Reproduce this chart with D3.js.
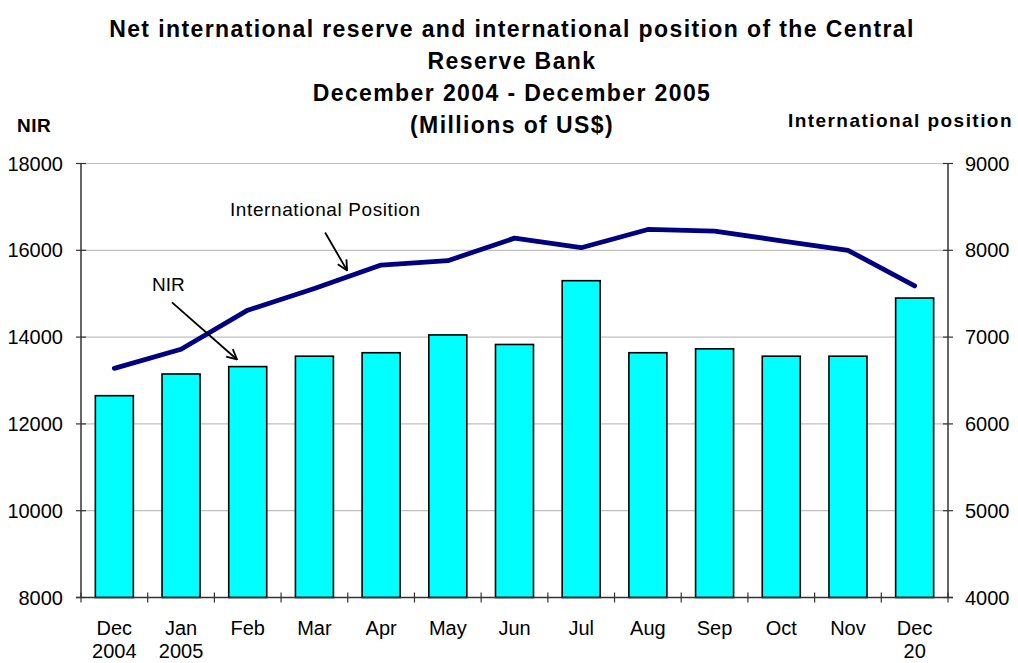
<!DOCTYPE html>
<html>
<head>
<meta charset="utf-8">
<script src="https://cdn.jsdelivr.net/npm/d3@7"></script>
<style>
  html, body { margin: 0; padding: 0; background: #fff; }
  svg { display: block; font-family: Arial, "Liberation Sans", sans-serif; }
</style>
</head>
<body>
<svg id="chart" width="1018" height="663"></svg>
<script>
// ---- data ----
const months = ["Dec", "Jan", "Feb", "Mar", "Apr", "May", "Jun", "Jul", "Aug", "Sep", "Oct", "Nov", "Dec"];
const years  = ["2004", "2005", "", "", "", "", "", "", "", "", "", "", "20"];
const nir    = [12650, 13150, 13320, 13560, 13640, 14050, 13830, 15300, 13640, 13730, 13560, 13560, 14900];
const intlPosition = [6640, 6860, 7310, 7560, 7830, 7880, 8140, 8030, 8240, 8220, 8110, 8000, 7590];
const leftTicks  = [8000, 10000, 12000, 14000, 16000, 18000];
const rightTicks = [4000, 5000, 6000, 7000, 8000, 9000];
const titleLines = [
  "Net international reserve and international position of the Central",
  "Reserve Bank",
  "December 2004 - December 2005",
  "(Millions of US$)"
];

// ---- layout ----
const W = 1018, H = 663;
const m = { left: 81, right: 948, top: 163.5, bottom: 597.5 };
const svg = d3.select("#chart");

const idx = months.map((d, i) => i);
const x = d3.scaleBand().domain(idx).range([m.left, m.right]).paddingInner(0.43).paddingOuter(0.215);
const xPos = d3.scaleLinear().domain([0, months.length]).range([m.left, m.right]);
const yL = d3.scaleLinear().domain([8000, 18000]).range([m.bottom, m.top]);
const yR = d3.scaleLinear().domain([4000, 9000]).range([m.bottom, m.top]);

// gridlines
svg.append("g").selectAll("line").data(leftTicks.filter(t => t > 8000)).join("line")
  .attr("x1", m.left).attr("x2", m.right)
  .attr("y1", d => yL(d)).attr("y2", d => yL(d))
  .attr("stroke", "#c0c0c0").attr("stroke-width", 1.2);

// bars
svg.append("g").selectAll("rect").data(nir).join("rect")
  .attr("x", (d, i) => x(i))
  .attr("width", x.bandwidth())
  .attr("y", d => yL(d))
  .attr("height", d => yL(8000) - yL(d))
  .attr("fill", "#00ffff")
  .attr("stroke", "#000").attr("stroke-width", 1.6);

// line
const line = d3.line().x((d, i) => x(i) + x.bandwidth() / 2).y(d => yR(d));
svg.append("path").datum(intlPosition)
  .attr("d", line).attr("fill", "none")
  .attr("stroke", "#000080").attr("stroke-width", 4.8)
  .attr("stroke-linejoin", "round").attr("stroke-linecap", "round");

// axes lines
const axisColor = "#333";
svg.append("line").attr("x1", m.left).attr("x2", m.left).attr("y1", m.top).attr("y2", m.bottom)
  .attr("stroke", axisColor).attr("stroke-width", 1.5);
svg.append("line").attr("x1", m.right).attr("x2", m.right).attr("y1", m.top).attr("y2", m.bottom)
  .attr("stroke", axisColor).attr("stroke-width", 1.5);
svg.append("line").attr("x1", m.left - 5).attr("x2", m.right + 5).attr("y1", m.bottom).attr("y2", m.bottom)
  .attr("stroke", axisColor).attr("stroke-width", 1.5);

// left ticks and labels
const gl = svg.append("g");
gl.selectAll("line").data(leftTicks).join("line")
  .attr("x1", m.left - 5).attr("x2", m.left + 5)
  .attr("y1", d => yL(d)).attr("y2", d => yL(d))
  .attr("stroke", axisColor).attr("stroke-width", 1.2);
gl.selectAll("text").data(leftTicks).join("text")
  .attr("x", 63).attr("y", d => yL(d)).attr("dy", "0.35em")
  .attr("text-anchor", "end").attr("font-size", 20).attr("fill", "#000")
  .text(d => d);

// right ticks and labels
const gr = svg.append("g");
gr.selectAll("line").data(rightTicks).join("line")
  .attr("x1", m.right - 5).attr("x2", m.right + 5)
  .attr("y1", d => yR(d)).attr("y2", d => yR(d))
  .attr("stroke", axisColor).attr("stroke-width", 1.2);
gr.selectAll("text").data(rightTicks).join("text")
  .attr("x", 965).attr("y", d => yR(d)).attr("dy", "0.35em")
  .attr("text-anchor", "start").attr("font-size", 20).attr("fill", "#000")
  .text(d => d);

// x ticks (between categories)
const xt = d3.range(months.length + 1);
svg.append("g").selectAll("line").data(xt).join("line")
  .attr("x1", d => xPos(d)).attr("x2", d => xPos(d))
  .attr("y1", m.bottom - 5).attr("y2", m.bottom + 5)
  .attr("stroke", axisColor).attr("stroke-width", 1.2);

// x labels
const gx = svg.append("g").attr("font-size", 20).attr("text-anchor", "middle").attr("fill", "#000");
gx.selectAll("text.m").data(months).join("text").attr("class", "m")
  .attr("x", (d, i) => x(i) + x.bandwidth() / 2).attr("y", 635).text(d => d);
gx.selectAll("text.y").data(years).join("text").attr("class", "y")
  .attr("x", (d, i) => x(i) + x.bandwidth() / 2).attr("y", 658).text(d => d);

// title
svg.append("g").attr("font-weight", "bold").attr("font-size", 23).attr("letter-spacing", 1.4)
  .attr("text-anchor", "middle")
  .selectAll("text").data(titleLines).join("text")
  .attr("x", 512).attr("y", (d, i) => 37 + i * 32)
  .text(d => d);

// axis titles
svg.append("text").attr("x", 17).attr("y", 132).attr("font-weight", "bold").attr("font-size", 19)
  .attr("letter-spacing", 0.5).text("NIR");
svg.append("text").attr("x", 1013).attr("y", 127).attr("text-anchor", "end")
  .attr("font-weight", "bold").attr("font-size", 19).attr("letter-spacing", 1.45).text("International position");

// annotations (positioned in chart units)
const defs = svg.append("defs");
defs.append("marker").attr("id", "arr").attr("viewBox", "0 0 12 12")
  .attr("refX", 11).attr("refY", 6).attr("markerWidth", 12).attr("markerHeight", 12)
  .attr("markerUnits", "userSpaceOnUse").attr("orient", "auto")
  .append("path").attr("d", "M1,1 L11,6 L1,11").attr("fill", "none").attr("stroke", "#000").attr("stroke-width", 1.8);

const annotations = [
  { text: "International Position", tx: 2.234, ty: 16800, ax1: 3.66, ay1: 16410, ax2: 3.99, ay2: 15535 },
  { text: "NIR", tx: 1.065, ty: 15070, ax1: 1.364, ay1: 14800, ax2: 2.339, ay2: 13484 }
];
const ga = svg.append("g");
annotations.forEach(a => {
  ga.append("text").attr("x", xPos(a.tx)).attr("y", yL(a.ty)).attr("font-size", 19)
    .attr("letter-spacing", a.text.length > 5 ? 0.6 : 0).text(a.text);
  ga.append("line").attr("x1", xPos(a.ax1)).attr("y1", yL(a.ay1)).attr("x2", xPos(a.ax2)).attr("y2", yL(a.ay2))
    .attr("stroke", "#000").attr("stroke-width", 1.8).attr("marker-end", "url(#arr)");
});
</script>
</body>
</html>
